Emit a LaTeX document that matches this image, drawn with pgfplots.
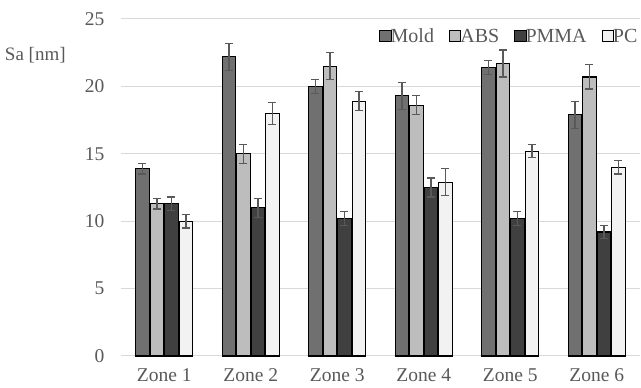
\documentclass[border=0pt]{standalone}
\usepackage{pgfplots}
\pgfplotsset{compat=1.18}
\usepackage{fontspec}
\setmainfont{Liberation Serif}
\definecolor{txt}{HTML}{595959}
\definecolor{cMold}{HTML}{707070}
\definecolor{cABS}{HTML}{BDBDBD}
\definecolor{cPMMA}{HTML}{404040}
\definecolor{cPC}{HTML}{F2F2F2}
\definecolor{grd}{HTML}{D9D9D9}
\begin{document}
\begin{tikzpicture}
\fontsize{19}{23}\selectfont
\path[use as bounding box] (-121pt,-32pt) rectangle (520pt,356pt);
\begin{axis}[
  scale only axis, width=519pt, height=337pt,
  ybar=1pt, bar width=13.5pt,
  xmin=-0.5, xmax=5.5, ymin=0, ymax=25,
  xtick={0,1,2,3,4,5},
  xticklabels={Zone 1,Zone 2,Zone 3,Zone 4,Zone 5,Zone 6},
  ytick={0,5,10,15,20,25},
  ymajorgrids, grid style={grd, line width=1pt},
  axis x line*=bottom, axis y line*=left,
  x axis line style={draw=grd, line width=1pt, -},
  y axis line style={draw=none},
  ytick style={draw=none}, xtick style={draw=none},
  tick label style={font=\fontsize{19.5}{23}\selectfont, text=txt},
  yticklabel style={xshift=-10pt},
  xticklabel style={yshift=-2pt},
  /pgf/number format/assume math mode=true,
  ylabel={Sa [nm]},
  ylabel style={rotate=-90, at={(axis description cs:-0.094,0.893)}, anchor=east, font=\fontsize{19}{23}\selectfont, text=txt},
  legend style={at={(axis description cs:1.005,0.947)}, anchor=east, draw=none, fill=none,
    legend columns=-1, font=\fontsize{20}{23}\selectfont, text=txt,
    /tikz/every even column/.append style={column sep=13pt},
    /tikz/every odd column/.append style={column sep=-3pt}},
  legend image code/.code={\draw[#1, draw=black, line width=0.9pt] (0cm,-0.17cm) rectangle (0.40cm,0.23cm);},
  error bars/y dir=both, error bars/y explicit,
  error bars/error bar style={draw=txt, line width=1.2pt},
  error bars/error mark options={rotate=90, mark size=4pt, draw=txt, line width=1.2pt},
  clip=false,
]
\addplot[fill=cMold, draw=black, line width=1.2pt] coordinates {
 (0,13.9) +- (0,0.4) (1,22.2) +- (0,1.0) (2,20.0) +- (0,0.5) (3,19.3) +- (0,1.0) (4,21.4) +- (0,0.5) (5,17.9) +- (0,1.0)};
\addplot[fill=cABS, draw=black, line width=1.2pt] coordinates {
 (0,11.3) +- (0,0.4) (1,15.0) +- (0,0.7) (2,21.5) +- (0,1.0) (3,18.6) +- (0,0.7) (4,21.7) +- (0,1.0) (5,20.7) +- (0,0.9)};
\addplot[fill=cPMMA, draw=black, line width=1.2pt] coordinates {
 (0,11.3) +- (0,0.5) (1,11.0) +- (0,0.7) (2,10.2) +- (0,0.5) (3,12.5) +- (0,0.7) (4,10.2) +- (0,0.5) (5,9.2) +- (0,0.5)};
\addplot[fill=cPC, draw=black, line width=1.2pt] coordinates {
 (0,10.0) +- (0,0.5) (1,18.0) +- (0,0.8) (2,18.9) +- (0,0.7) (3,12.9) +- (0,1.0) (4,15.2) +- (0,0.5) (5,14.0) +- (0,0.5)};
\legend{Mold,ABS,PMMA,PC}
\end{axis}
\end{tikzpicture}
\end{document}
